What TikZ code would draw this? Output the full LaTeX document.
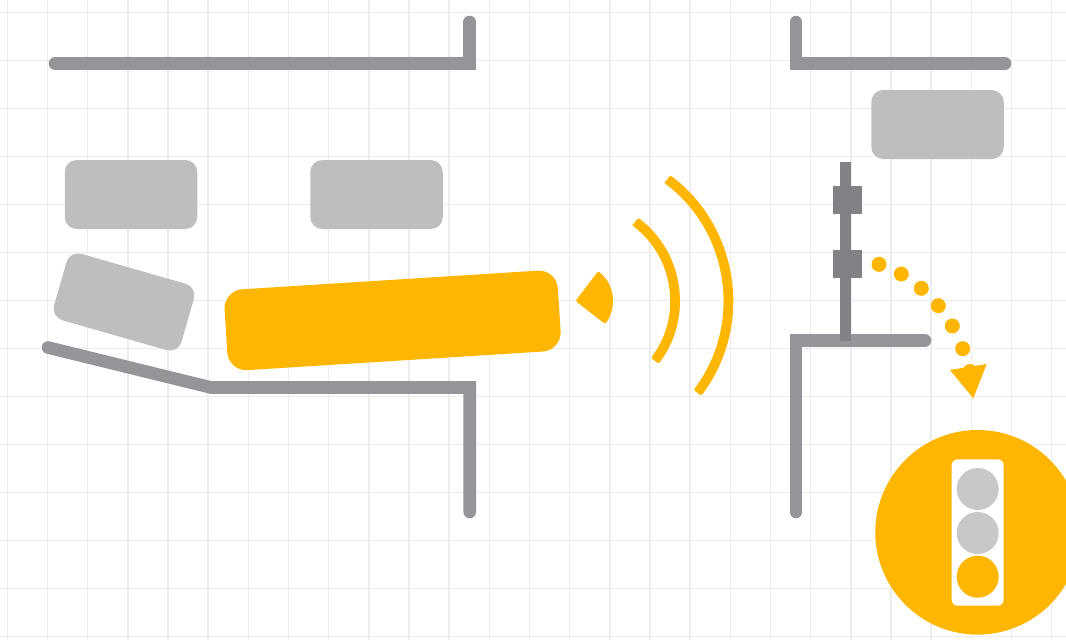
\documentclass[tikz,border=0pt]{standalone}
\definecolor{gridc}{HTML}{EDEDEE}
\definecolor{wallc}{HTML}{939598}
\definecolor{carc}{HTML}{BCBEC0}
\definecolor{polec}{HTML}{808285}
\definecolor{amber}{HTML}{FFB600}
\definecolor{lampc}{HTML}{C7C8CA}
\tikzset{
  gridline/.style={draw=gridc,line width=1.5pt},
  wall/.style={draw=wallc,line width=12.6pt,line cap=round,miter limit=10},
  carbox/.style={fill=carc,rounded corners=12pt,minimum width=132.5pt,minimum height=69pt,inner sep=0pt,outer sep=0pt},
  lamp/.style={circle,minimum size=42pt,inner sep=0pt,outer sep=0pt},
  dotmark/.style={circle,fill=amber,minimum size=15pt,inner sep=0pt,outer sep=0pt},
  headbox/.style={fill=polec,minimum width=29pt,minimum height=28pt,inner sep=0pt,outer sep=0pt},
  wave/.style={fill=amber,rounded corners=1.5pt}
}
\begin{document}
\begin{tikzpicture}[x=1pt,y=-1pt]
\useasboundingbox (0,0) rectangle (1066,640);
\begin{scope}
\clip (0,0) rectangle (1066,640);
\fill[white] (0,0) rectangle (1066,640);
\foreach \k in {0,...,26}{\draw[gridline] ({7.3+40.17*\k},0) -- ({7.3+40.17*\k},640);}
\foreach \k in {0,...,13}{\draw[gridline] (0,{12.7+48*\k}) -- (1066,{12.7+48*\k});}
% walls
\draw[wall] (55,63.5) -- (469.7,63.5) -- (469.7,22);
\draw[wall] (796,22) -- (796,63.5) -- (1005,63.5);
\draw[wall] (48,347.5) -- (211,387.5) -- (469.7,387.5) -- (469.7,512);
\draw[wall] (796,512) -- (796,340.5) -- (925,340.5);
% vehicles
\node[carbox] (carA) at (131,194.5) {};
\node[carbox] (carB) at (376.5,194.5) {};
\node[carbox] (carC) at (937.5,124.5) {};
\node[carbox,rotate=-16] (carD) at (124,302) {};
\node[fill=amber,rounded corners=19pt,minimum width=334pt,minimum height=81pt,inner sep=0pt,outer sep=0pt,rotate=3.6] (bus) at (392.6,320.4) {};
% signal pole
\draw[draw=polec,line width=11pt] (845.5,162) -- (845.5,341);
\node[headbox] (headA) at (847.5,200) {};
\node[headbox] (headB) at (847.5,264) {};
% dots and arrow
\foreach \n/\px/\py in {a/879/264.3,b/901.3/274,c/921.3/288.3,d/938.3/305.7,e/952.3/326,f/962.7/348.7,g/970/371.5}{
  \node[dotmark] (dot\n) at (\px,\py) {};
}
\fill[amber] (950,370) -- (986.7,364) -- (973.3,398.3) -- cycle;
% emitter and waves (y-up polar coordinates round the emitter)
\begin{scope}[shift={(575.5,301)},y=1pt]
\fill[wave] (0:0) -- (52.7:37.5) arc[start angle=52.7,end angle=-37.8,radius=37.5] -- cycle;
\fill[wave] (53:94.5) -- (53:104.2) arc[start angle=53,end angle=-37,radius=104.2] -- (-37:94.5) arc[start angle=-37,end angle=53,radius=94.5] -- cycle;
\fill[wave] (53:147.8) -- (53:157.5) arc[start angle=53,end angle=-37,radius=157.5] -- (-37:147.8) arc[start angle=-37,end angle=53,radius=147.8] -- cycle;
\end{scope}
% traffic light badge
\node[circle,fill=amber,minimum size=204.6pt,inner sep=0pt,outer sep=0pt] (badge) at (977.6,532.3) {};
\node[fill=white,rounded corners=6pt,minimum width=52pt,minimum height=146.4pt,inner sep=0pt,outer sep=0pt] (housing) at (977.7,532.5) {};
\node[lamp,fill=lampc] (lampA) at (977.7,489) {};
\node[lamp,fill=lampc] (lampB) at (977.7,533) {};
\node[lamp,fill=amber] (lampC) at (977.7,576.7) {};
\end{scope}
\end{tikzpicture}
\end{document}
